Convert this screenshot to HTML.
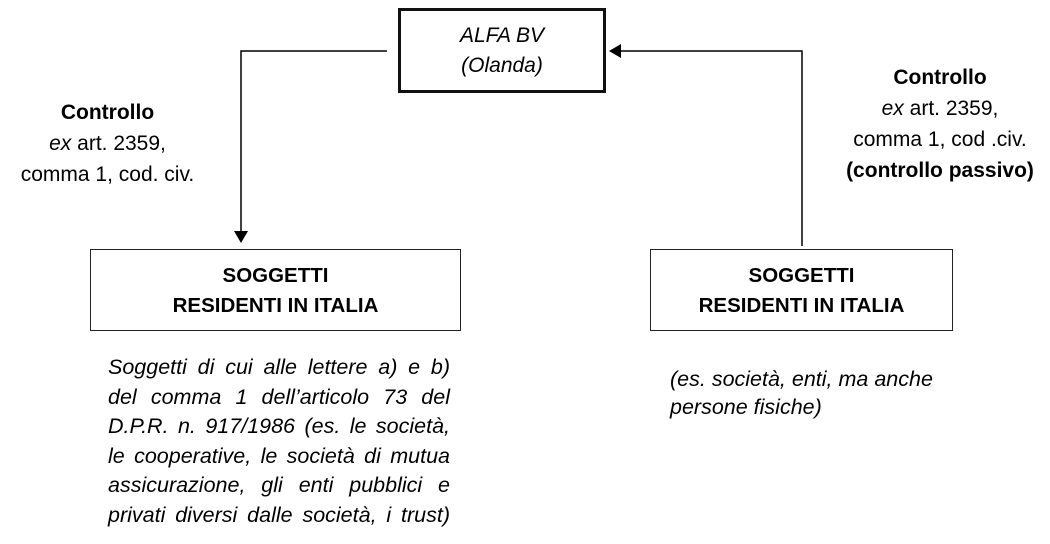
<!DOCTYPE html>
<html><head><meta charset="utf-8"><style>
body{margin:0;width:1050px;height:544px;background:#fff;position:relative;font-family:"Liberation Sans",sans-serif;color:#000;overflow:hidden}
.a{position:absolute}
.box{position:absolute;border:1.5px solid #222;box-sizing:border-box;text-align:center;font-weight:bold;font-size:20.5px;line-height:30px}
.lbl{position:absolute;text-align:center;font-size:21px;line-height:31px}
.p{position:absolute;font-style:italic;font-size:21.5px;line-height:29.5px}
.p div{text-align:justify;text-align-last:justify;white-space:nowrap}
.p div.l{text-align-last:left}
</style></head><body>
<svg class="a" style="left:0;top:0" width="1050" height="544">
<polyline points="387,51 241,51 241,232" fill="none" stroke="#000" stroke-width="1.5"/>
<polygon points="234,231 248,231 241,243" fill="#000"/>
<polyline points="802,246 802,51 620,51" fill="none" stroke="#000" stroke-width="1.5"/>
<polygon points="621,44 621,58 609,51" fill="#000"/>
</svg>
<div class="box" style="left:398px;top:8px;width:208px;height:85px;border:3.5px solid #111;font-style:italic;font-weight:normal;font-size:21px;padding-top:10px">ALFA BV<br>(Olanda)</div>
<div class="box" style="left:90px;top:249px;width:371px;height:82px;padding-top:11px">SOGGETTI<br>RESIDENTI IN ITALIA</div>
<div class="box" style="left:650px;top:249px;width:303px;height:82px;padding-top:11px">SOGGETTI<br>RESIDENTI IN ITALIA</div>
<div class="lbl" style="left:0;top:97px;width:215px"><b>Controllo</b><br><i>ex</i> art. 2359,<br>comma 1, cod. civ.</div>
<div class="lbl" style="left:830px;top:62px;width:220px"><b>Controllo</b><br><i>ex</i> art. 2359,<br>comma 1, cod .civ.<br><b>(controllo passivo)</b></div>
<div class="p" style="left:108px;top:353px;width:342px">
<div>Soggetti di cui alle lettere a) e b)</div>
<div>del comma 1 dell’articolo 73 del</div>
<div>D.P.R. n. 917/1986 (es. le società,</div>
<div>le cooperative, le società di mutua</div>
<div>assicurazione, gli enti pubblici e</div>
<div>privati diversi dalle società, i trust)</div>
</div>
<div class="p" style="left:670px;top:365px;width:290px;line-height:28px">
<div class="l">(es. società, enti, ma anche</div>
<div class="l">persone fisiche)</div>
</div>
</body></html>
